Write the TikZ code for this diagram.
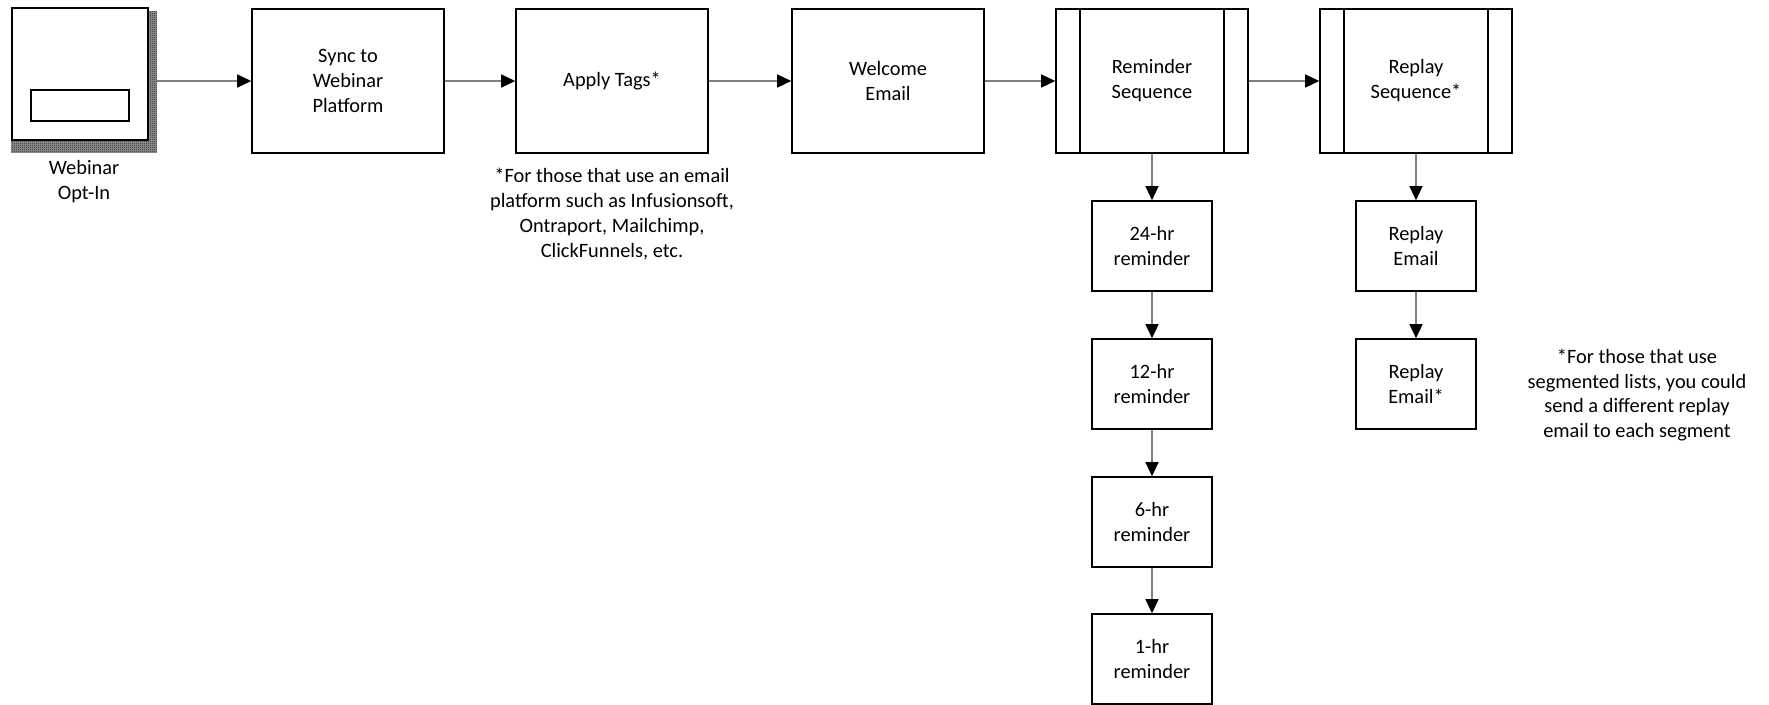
\documentclass[tikz,border=0pt]{standalone}
\usepackage{fontspec}
\setmainfont{Carlito}
\usetikzlibrary{arrows.meta,patterns.meta,backgrounds}

\tikzdeclarepattern{
  name=finecheck,
  type=uncolored,
  bottom left={(0pt,0pt)},
  top right={(1.14pt,1.14pt)},
  tile size={(1.14pt,1.14pt)},
  code={
    \fill (0pt,0pt) rectangle (0.57pt,0.57pt);
    \fill (0.57pt,0.57pt) rectangle (1.14pt,1.14pt);
  }
}

\tikzset{
  txt/.style={font=\fontsize{11.6}{14.2}\selectfont, align=center},
  box/.style={txt, draw, line width=0.9pt, fill=white, inner sep=2pt,
    minimum width=3.84cm, minimum height=2.88cm},
  smallbox/.style={box, minimum width=2.4cm, minimum height=1.8cm},
  subproc/.style={box, path picture={
    \draw[line width=0.9pt]
      ([xshift=0.48cm]path picture bounding box.north west) --
      ([xshift=0.48cm]path picture bounding box.south west)
      ([xshift=-0.48cm]path picture bounding box.north east) --
      ([xshift=-0.48cm]path picture bounding box.south east);}},
  flow/.style={draw=black!50, line width=0.7pt,
    -{Triangle[length=0.28cm,width=0.26cm,color=black]}}
}

\begin{document}
\begin{tikzpicture}[x=0.02cm, y=-0.02cm]
  \useasboundingbox (0,0) rectangle (1769,704);

  % top row
  \node[box, minimum width=2.72cm, minimum height=2.64cm] (optin) at (80,74) {};
  \node[draw, line width=0.7pt, minimum width=1.96cm, minimum height=0.62cm]
    (field) at ([yshift=-0.63cm]optin.center) {};
  \begin{scope}[on background layer]
    \fill[black!40] ([yshift=-0.24cm]optin.south west)
      rectangle ([shift={(0.16cm,-0.08cm)}]optin.north east);
    \fill[pattern=finecheck] ([yshift=-0.24cm]optin.south west)
      rectangle ([shift={(0.16cm,-0.08cm)}]optin.north east);
  \end{scope}
  \node[txt] (optinlbl) at (84,182) {Webinar\\Opt-In};

  \node[box] (sync) at (348,81) {Sync to\\Webinar\\Platform};
  \node[box] (tags) at (612,81) {Apply Tags*};
  \node[box] (welcome) at (888,81) {Welcome\\Email};
  \node[subproc] (rseq) at (1152,81) {Reminder\\Sequence};
  \node[subproc] (pseq) at (1416,81) {Replay\\Sequence*};

  \node[txt] (tagsnote) at (612,214)
    {*For those that use an email\\platform such as Infusionsoft,\\Ontraport, Mailchimp,\\ClickFunnels, etc.};

  % reminders
  \node[smallbox] (r24) at (1152,246) {24-hr\\reminder};
  \node[smallbox] (r12) at (1152,384) {12-hr\\reminder};
  \node[smallbox] (r6) at (1152,522) {6-hr\\reminder};
  \node[smallbox] (r1) at (1152,659) {1-hr\\reminder};

  % replays
  \node[smallbox] (remail) at (1416,246) {Replay\\Email};
  \node[smallbox] (remail2) at (1416,384) {Replay\\Email*};
  \node[txt] (replaynote) at (1637,395)
    {*For those that use\\segmented lists, you could\\send a different replay\\email to each segment};

  \coordinate (optout) at ([xshift=0.16cm]optin.east |- sync.west);
  \draw[flow] (optout) -- (sync);
  \draw[flow] (sync) -- (tags);
  \draw[flow] (tags) -- (welcome);
  \draw[flow] (welcome) -- (rseq);
  \draw[flow] (rseq) -- (pseq);
  \draw[flow] (rseq) -- (r24);
  \draw[flow] (r24) -- (r12);
  \draw[flow] (r12) -- (r6);
  \draw[flow] (r6) -- (r1);
  \draw[flow] (pseq) -- (remail);
  \draw[flow] (remail) -- (remail2);
\end{tikzpicture}
\end{document}
